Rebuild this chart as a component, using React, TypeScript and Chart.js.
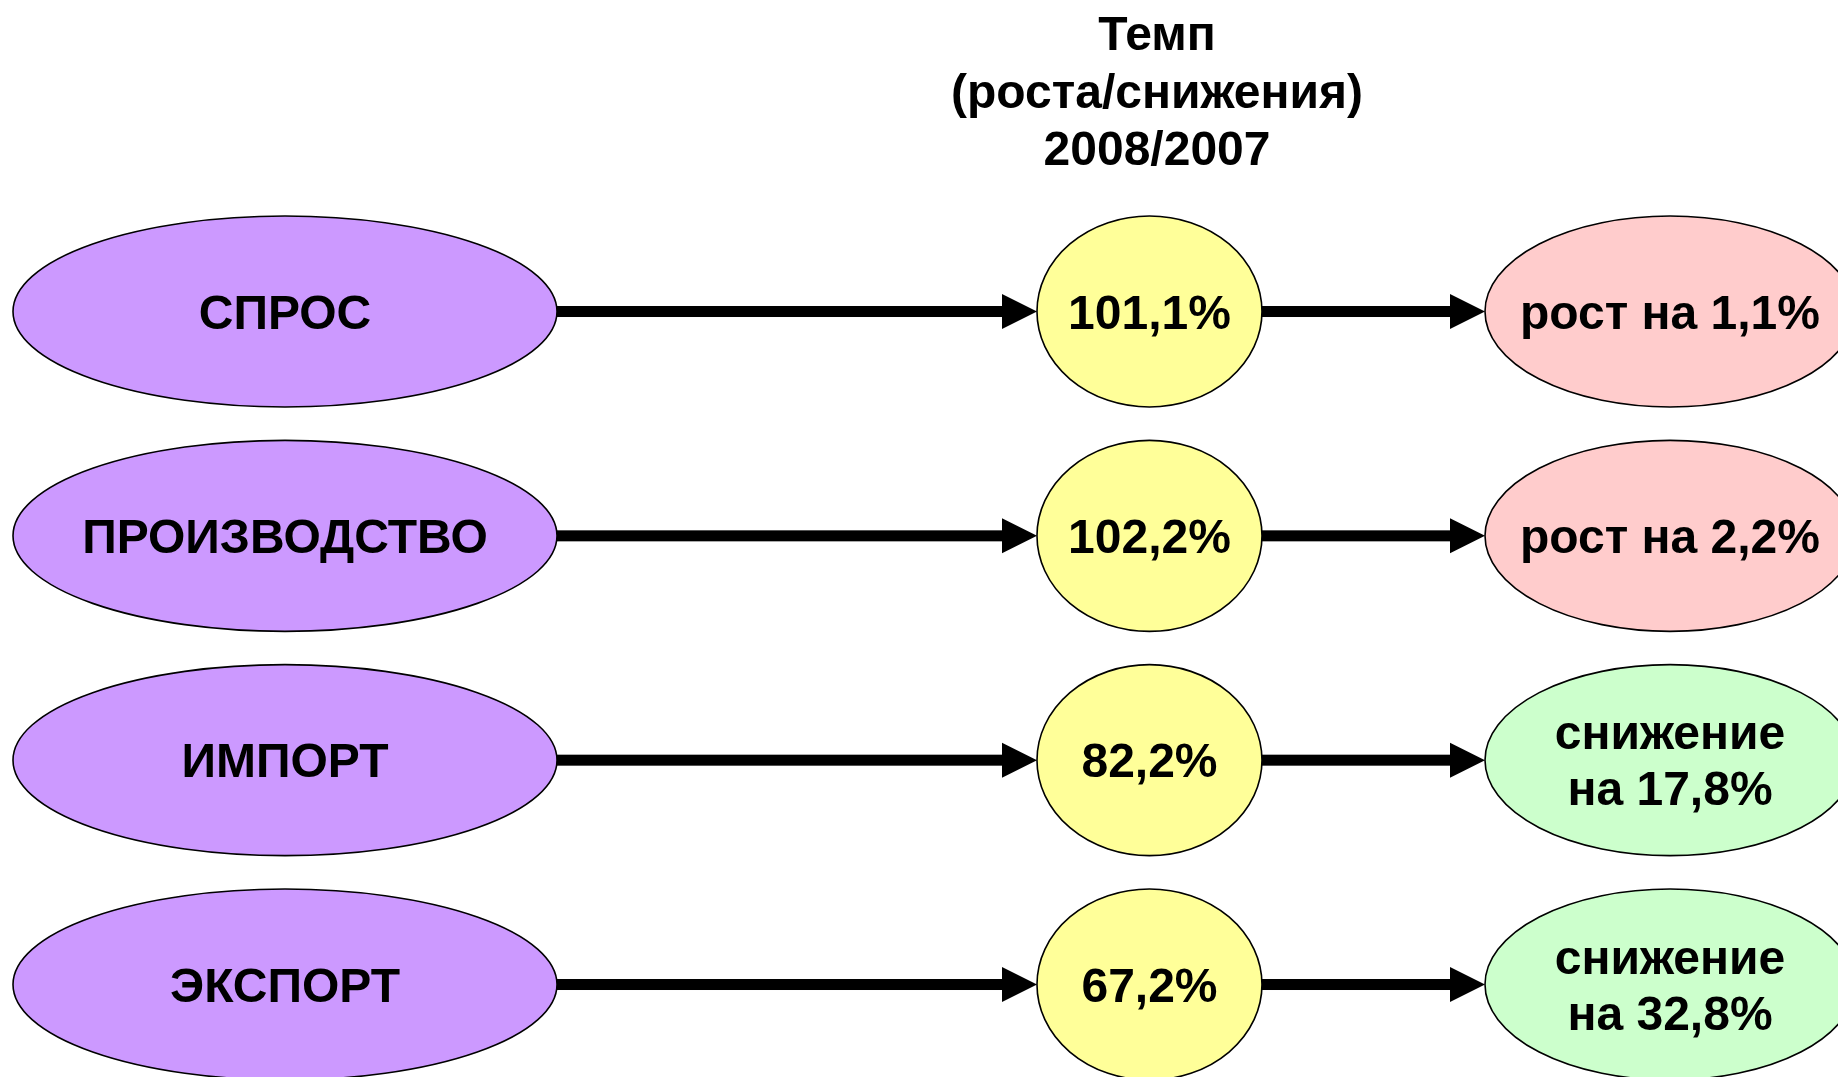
import React, { useEffect, useRef } from "react";
import { Chart, registerables } from "chart.js";

Chart.register(...registerables);

// ---- data ----
const categories = ["СПРОС", "ПРОИЗВОДСТВО", "ИМПОРТ", "ЭКСПОРТ"];
const rates = [101.1, 102.2, 82.2, 67.2]; // 2008/2007, %
const titleLines = ["Темп", "(роста/снижения)", "2008/2007"];

// ---- layout (positions / sizes / styles) ----
const COLUMN_X = [15.506, 62.54, 90.86]; // x-scale units (0..100)
const RADII = [
  { rx: 272, ry: 95.5 },
  { rx: 112.5, ry: 95.5 },
  { rx: 185, ry: 95.5 },
];
const FONT = 'bold 48px "Liberation Sans", Arial, Helvetica, sans-serif';
const SOURCE_FILL = "#CC99FF";
const RATE_FILL = "#FFFF99";
const GROWTH_FILL = "#FFCCCC";
const DECLINE_FILL = "#CCFFCC";

const fmt = (v: number) => v.toFixed(1).replace(".", ",");
const rateLabel = (r: number) => [fmt(r) + "%"];
const resultLabel = (r: number) =>
  r >= 100 ? ["рост на " + fmt(r - 100) + "%"] : ["снижение", "на " + fmt(100 - r) + "%"];

const diagramPlugin = {
  id: "diagram",
  afterDatasetsDraw(chart: any) {
    const ctx: CanvasRenderingContext2D = chart.ctx;
    const metas = [0, 1, 2].map((i) => chart.getDatasetMeta(i));
    const area = chart.chartArea;
    ctx.save();

    // title
    ctx.fillStyle = "#000";
    ctx.font = FONT;
    ctx.textAlign = "center";
    ctx.textBaseline = "alphabetic";
    const titleX = chart.scales.x.getPixelForValue(62.95);
    titleLines.forEach((t, i) => ctx.fillText(t, titleX, area.top + 50 + i * 57.5));

    const arrow = (x1: number, x2: number, y: number) => {
      const head = 35;
      const half = 17.5;
      ctx.fillStyle = "#000";
      ctx.fillRect(x1, y - 5.5, x2 - head - x1 + 1, 11);
      ctx.beginPath();
      ctx.moveTo(x2 - head, y - half);
      ctx.lineTo(x2, y);
      ctx.lineTo(x2 - head, y + half);
      ctx.closePath();
      ctx.fill();
    };

    const node = (x: number, y: number, rx: number, ry: number, fill: string, lines: string[]) => {
      ctx.beginPath();
      ctx.ellipse(x, y, rx, ry, 0, 0, Math.PI * 2);
      ctx.fillStyle = fill;
      ctx.fill();
      ctx.lineWidth = 1.6;
      ctx.strokeStyle = "#000";
      ctx.stroke();
      ctx.fillStyle = "#000";
      ctx.font = FONT;
      ctx.textAlign = "center";
      ctx.textBaseline = "middle";
      const lh = 56;
      lines.forEach((l, i) => {
        ctx.fillText(l, x, y + 4 + (i - (lines.length - 1) / 2) * lh);
      });
    };

    categories.forEach((cat, i) => {
      const p0 = metas[0].data[i];
      const p1 = metas[1].data[i];
      const p2 = metas[2].data[i];
      arrow(p0.x + RADII[0].rx, p1.x - RADII[1].rx, p0.y);
      arrow(p1.x + RADII[1].rx, p2.x - RADII[2].rx, p1.y);
      node(p0.x, p0.y, RADII[0].rx, RADII[0].ry, SOURCE_FILL, [cat]);
      node(p1.x, p1.y, RADII[1].rx, RADII[1].ry, RATE_FILL, rateLabel(rates[i]));
      node(
        p2.x,
        p2.y,
        RADII[2].rx,
        RADII[2].ry,
        rates[i] >= 100 ? GROWTH_FILL : DECLINE_FILL,
        resultLabel(rates[i])
      );
    });
    ctx.restore();
  },
};

export default function App() {
  const ref = useRef<HTMLCanvasElement | null>(null);
  useEffect(() => {
    document.body.style.margin = "0";
    if (!ref.current) return;
    const chart = new Chart(ref.current, {
      type: "scatter",
      data: {
        datasets: [0, 1, 2].map((c) => ({
          label: ["source", "rate", "result"][c],
          data: categories.map((_, i) => ({ x: COLUMN_X[c], y: i + 1 })),
          pointRadius: 0,
          pointHoverRadius: 0,
        })),
      },
      options: {
        animation: false,
        responsive: true,
        maintainAspectRatio: false,
        layout: { padding: 0 },
        events: [],
        plugins: {
          legend: { display: false },
          tooltip: { enabled: false },
          title: { display: false },
        },
        scales: {
          x: { type: "linear", display: false, min: 0, max: 100 },
          y: { type: "linear", display: false, reverse: true, min: -0.3886, max: 4.4123 },
        },
      },
      plugins: [diagramPlugin],
    });
    return () => chart.destroy();
  }, []);
  return (
    <div style={{ position: "fixed", left: 0, top: 0, width: "1838px", height: "1077px", background: "#fff" }}>
      <canvas ref={ref} />
    </div>
  );
}
